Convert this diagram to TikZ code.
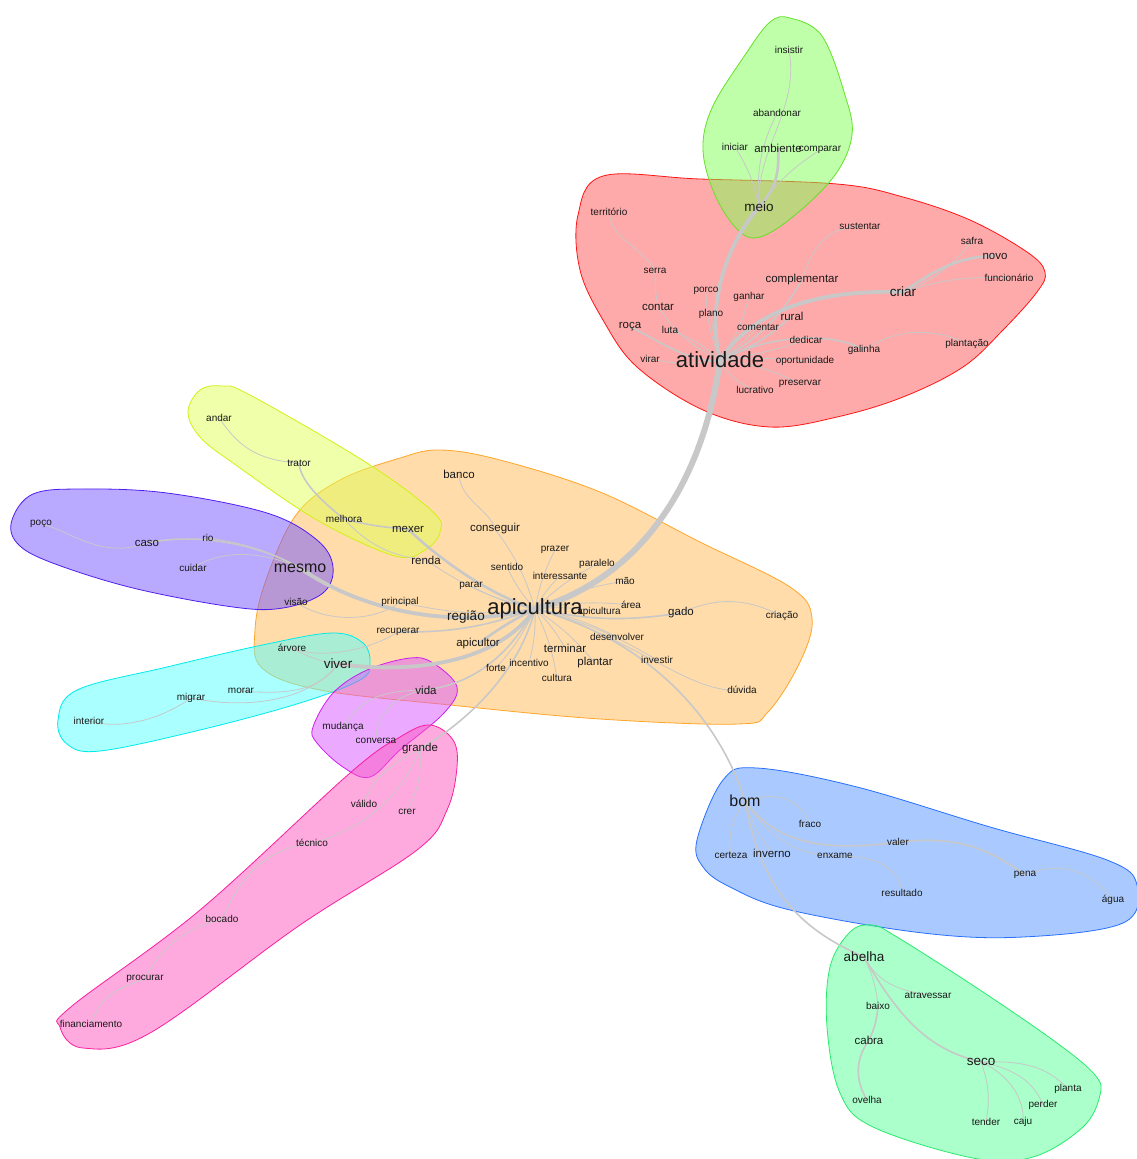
\documentclass[tikz,border=0pt]{standalone}
\usepackage{fontspec}
\setmainfont{Liberation Sans}
\usepackage{tikz}
\usetikzlibrary{positioning}

\definecolor{wordcol}{RGB}{25,25,25}
\definecolor{linkcol}{RGB}{200,200,200}
\definecolor{redfill}{RGB}{255,85,85}
\definecolor{redline}{RGB}{255,20,20}
\definecolor{greenfill}{RGB}{128,255,85}
\definecolor{greenline}{RGB}{100,225,40}
\definecolor{orangefill}{RGB}{255,185,85}
\definecolor{orangeline}{RGB}{255,165,40}
\definecolor{yellowfill}{RGB}{225,255,85}
\definecolor{yellowline}{RGB}{210,240,20}
\definecolor{purplefill}{RGB}{115,85,255}
\definecolor{purpleline}{RGB}{80,30,240}
\definecolor{cyanfill}{RGB}{85,255,255}
\definecolor{cyanline}{RGB}{0,235,235}
\definecolor{magentafill}{RGB}{215,85,255}
\definecolor{magentaline}{RGB}{205,30,240}
\definecolor{pinkfill}{RGB}{255,85,190}
\definecolor{pinkline}{RGB}{250,30,160}
\definecolor{bluefill}{RGB}{85,150,255}
\definecolor{blueline}{RGB}{40,110,255}
\definecolor{mintfill}{RGB}{85,255,150}
\definecolor{mintline}{RGB}{40,235,110}

\pgfdeclarelayer{blobs}
\pgfdeclarelayer{links}
\pgfsetlayers{blobs,links,main}

\begin{document}
\begin{tikzpicture}[
        x=1pt, y=-1pt,
        word/.style={inner sep=0pt, text=wordcol, font=\fontsize{10}{10}\selectfont},
        wordm/.style={word, font=\fontsize{11.5}{11.5}\selectfont},
        wordb/.style={word, font=\fontsize{13.5}{13.5}\selectfont},
        wordl/.style={word, font=\fontsize{16}{16}\selectfont},
        wordx/.style={word, font=\fontsize{22}{22}\selectfont},
        link1/.style={draw=linkcol, line width=0.8pt},
        link2/.style={draw=linkcol, line width=1.6pt},
        link3/.style={draw=linkcol, line width=2.6pt},
        link4/.style={draw=linkcol, line width=3.8pt},
        link5/.style={draw=linkcol, line width=6pt},
        blob/.style={fill=#1fill, fill opacity=0.5, draw=#1line, line width=0.8pt}
    ]
    \useasboundingbox (0,0) rectangle (1137,1159);

    % clusters
    \begin{pgfonlayer}{blobs}
    \path[blob=red] plot[smooth cycle, tension=0.6] coordinates {(603,176) (700,179) (837,184) (903,197) (970,220) (1027,252) (1045,272) (1037,292) (1003,330) (963,367) (903,397) (837,417) (770,427) (703,410) (637,367) (603,320) (580,270) (578,215)};
    \path[blob=green] plot[smooth cycle, tension=0.6] coordinates {(790,18) (822,36) (845,95) (852,135) (835,175) (795,215) (760,237) (738,230) (715,195) (703,150) (712,108) (745,55) (770,22)};
    \path[blob=orange] plot[smooth cycle, tension=0.6] coordinates {(440,450) (500,460) (600,492) (700,542) (790,587) (812,618) (800,662) (768,712) (738,724) (600,719) (450,705) (320,690) (262,668) (255,630) (266,580) (296,515) (340,480) (400,458)};
    \path[blob=yellow] plot[smooth cycle, tension=0.6] coordinates {(200,390) (222,386) (250,395) (367,463) (433,512) (440,532) (425,550) (395,556) (317,520) (233,463) (200,437) (188,412)};
    \path[blob=purple] plot[smooth cycle, tension=0.6] coordinates {(12,520) (33,494) (83,489) (167,493) (267,513) (317,540) (333,567) (323,593) (283,608) (233,607) (133,588) (50,562) (17,543)};
    \path[blob=cyan] plot[smooth cycle, tension=0.6] coordinates {(58,720) (77,690) (167,667) (267,644) (333,633) (363,643) (370,663) (360,680) (300,703) (200,730) (100,751) (67,744)};
    \path[blob=magenta] plot[smooth cycle, tension=0.6] coordinates {(410,658) (433,663) (457,687) (444,713) (400,750) (370,777) (343,767) (317,743) (313,727) (333,693) (367,670)};
    \path[blob=pink] plot[smooth cycle, tension=0.6] coordinates {(430,725) (453,740) (457,767) (447,810) (417,850) (300,925) (150,1033) (83,1048) (60,1027) (72,1006) (200,910) (350,773) (400,737)};
    \path[blob=blue] plot[smooth cycle, tension=0.6] coordinates {(757,768) (857,787) (990,827) (1107,860) (1137,885) (1123,923) (1023,937) (923,933) (790,910) (730,887) (703,867) (697,840) (723,780)};
    \path[blob=mint] plot[smooth cycle, tension=0.6] coordinates {(850,932) (872,925) (897,937) (980,990) (1057,1043) (1095,1075) (1100,1095) (1083,1127) (1033,1157) (973,1158) (873,1127) (840,1093) (827,1027) (830,967)};
    \end{pgfonlayer}

    % words
    \node (insistir) [word] at (789,50) {insistir};
    \node (abandonar) [word] at (777,113) {abandonar};
    \node (iniciar) [word] at (735,147) {iniciar};
    \node (ambiente) [wordm] at (778,148) {ambiente};
    \node (comparar) [word] at (820,150) {comparar};
    \node (meio) [wordb] at (759,207) {meio};

    \node (territorio) [word] at (609,212) {território};
    \node (sustentar) [word] at (860,226) {sustentar};
    \node (safra) [word] at (972,241) {safra};
    \node (novo) [wordm] at (995,256) {novo};
    \node (funcionario) [word] at (1009,278) {funcionário};
    \node (serra) [word] at (655,271) {serra};
    \node (porco) [word] at (706,291) {porco};
    \node (complementar) [wordm] at (802,280) {complementar};
    \node (criar) [wordb] at (903,292) {criar};
    \node (ganhar) [word] at (749,297) {ganhar};
    \node (contar) [wordm] at (658,307) {contar};
    \node (plano) [word] at (711,314) {plano};
    \node (rural) [wordm] at (792,316) {rural};
    \node (roca) [wordm] at (630,327) {roça};
    \node (luta) [word] at (670,330) {luta};
    \node (comentar) [word] at (758,327) {comentar};
    \node (dedicar) [word] at (806,340) {dedicar};
    \node (galinha) [word] at (864,350) {galinha};
    \node (plantacao) [word] at (967,344) {plantação};
    \node (virar) [word] at (650,359) {virar};
    \node (atividade) [wordx] at (720,360) {atividade};
    \node (oportunidade) [word] at (805,361) {oportunidade};
    \node (preservar) [word] at (800,384) {preservar};
    \node (lucrativo) [word] at (755,390) {lucrativo};

    \node (andar) [word] at (219,418) {andar};
    \node (trator) [word] at (299,463) {trator};
    \node (melhora) [word] at (344,519) {melhora};
    \node (mexer) [wordm] at (408,529) {mexer};

    \node (banco) [wordm] at (459,474) {banco};
    \node (conseguir) [wordm] at (495,529) {conseguir};
    \node (prazer) [word] at (555,550) {prazer};
    \node (renda) [wordm] at (426,560) {renda};
    \node (paralelo) [word] at (597,564) {paralelo};
    \node (sentido) [word] at (507,567) {sentido};
    \node (interessante) [word] at (560,576) {interessante};
    \node (mao) [word] at (625,581) {mão};
    \node (parar) [word] at (471,586) {parar};
    \node (principal) [word] at (400,602) {principal};
    \node (area) [word] at (631,605) {área};
    \node (apicultura) [wordx] at (535,609) {apicultura};
    \node (regiao) [wordb] at (466,617) {região};
    \node (apicultura2) [word] at (599,612) {apicultura};
    \node (gado) [wordm] at (681,613) {gado};
    \node (criacao) [word] at (782,616) {criação};
    \node (recuperar) [word] at (398,632) {recuperar};
    \node (desenvolver) [word] at (617,637) {desenvolver};
    \node (apicultor) [wordm] at (478,644) {apicultor};
    \node (terminar) [wordm] at (565,648) {terminar};
    \node (plantar) [wordm] at (595,663) {plantar};
    \node (investir) [word] at (657,660) {investir};
    \node (forte) [word] at (496,668) {forte};
    \node (incentivo) [word] at (529,663) {incentivo};
    \node (cultura) [word] at (557,678) {cultura};
    \node (duvida) [word] at (742,690) {dúvida};

    \node (poco) [word] at (41,524) {poço};
    \node (caso) [wordm] at (147,543) {caso};
    \node (rio) [word] at (208,538) {rio};
    \node (cuidar) [word] at (193,568) {cuidar};
    \node (mesmo) [wordl] at (300,568) {mesmo};
    \node (visao) [word] at (296,602) {visão};

    \node (arvore) [word] at (292,648) {árvore};
    \node (viver) [wordb] at (338,664) {viver};
    \node (morar) [word] at (241,691) {morar};
    \node (migrar) [word] at (191,698) {migrar};
    \node (interior) [word] at (89,721) {interior};

    \node (vida) [wordm] at (426,690) {vida};
    \node (mudanca) [word] at (343,727) {mudança};
    \node (conversa) [word] at (376,741) {conversa};

    \node (grande) [wordm] at (420,749) {grande};
    \node (valido) [word] at (364,804) {válido};
    \node (crer) [word] at (407,812) {crer};
    \node (tecnico) [word] at (312,843) {técnico};
    \node (bocado) [word] at (222,919) {bocado};
    \node (procurar) [word] at (145,979) {procurar};
    \node (financiamento) [word] at (91,1024) {financiamento};

    \node (bom) [wordl] at (745,801) {bom};
    \node (fraco) [word] at (810,824) {fraco};
    \node (valer) [word] at (898,842) {valer};
    \node (certeza) [word] at (731,855) {certeza};
    \node (inverno) [wordm] at (772,853) {inverno};
    \node (enxame) [word] at (835,856) {enxame};
    \node (pena) [word] at (1025,875) {pena};
    \node (resultado) [word] at (902,893) {resultado};
    \node (agua) [word] at (1113,900) {água};

    \node (abelha) [wordb] at (864,957) {abelha};
    \node (atravessar) [word] at (928,995) {atravessar};
    \node (baixo) [word] at (878,1006) {baixo};
    \node (cabra) [wordm] at (869,1040) {cabra};
    \node (seco) [wordb] at (981,1062) {seco};
    \node (planta) [word] at (1068,1089) {planta};
    \node (perder) [word] at (1043,1105) {perder};
    \node (ovelha) [word] at (867,1100) {ovelha};
    \node (tender) [word] at (986,1122) {tender};
    \node (caju) [word] at (1023,1122) {caju};

    % links
    \begin{pgfonlayer}{links}
    \draw[link5] (apicultura.center) .. controls (650,575) and (705,470) .. (atividade.center);
    \draw[link4] (meio.center) .. controls (730,240) and (705,300) .. (atividade.center);
    \draw[link3] (ambiente.center) .. controls (780,180) and (772,192) .. (meio.center);
    \draw[link1] (meio.center) .. controls (755,150) and (800,110) .. (insistir.center);
    \draw[link1] (meio.center) to[bend left=15] (abandonar.center);
    \draw[link1] (meio.center) to[bend right=10] (iniciar.center);
    \draw[link1] (meio.center) to[bend left=10] (comparar.center);

    \draw[link4] (atividade.center) .. controls (760,300) and (840,290) .. (criar.center);
    \draw[link3] (criar.center) .. controls (935,270) and (960,256) .. (novo.center);
    \draw[link1] (criar.center) to[bend right=15] (safra.center);
    \draw[link1] (criar.center) to[bend left=10] (funcionario.center);
    \draw[link2] (atividade.center) to[bend right=15] (complementar.center);
    \draw[link1] (complementar.center) .. controls (815,240) and (830,228) .. (sustentar.center);
    \draw[link2] (atividade.center) to[bend right=10] (rural.center);
    \draw[link1] (atividade.center) to[bend right=10] (ganhar.center);
    \draw[link1] (atividade.center) to[bend left=10] (porco.center);
    \draw[link1] (atividade.center) to[bend left=5] (plano.center);
    \draw[link1] (atividade.center) to[bend right=5] (comentar.center);
    \draw[link1] (atividade.center) to[bend right=5] (dedicar.center);
    \draw[link2] (atividade.center) .. controls (780,330) and (840,335) .. (galinha.center);
    \draw[link1] (galinha.center) .. controls (900,325) and (940,330) .. (plantacao.center);
    \draw[link1] (atividade.center) to[bend left=5] (oportunidade.center);
    \draw[link1] (atividade.center) to[bend left=10] (preservar.center);
    \draw[link1] (atividade.center) to[bend right=20] (lucrativo.center);
    \draw[link1] (atividade.center) to[bend left=10] (virar.center);
    \draw[link1] (atividade.center) to[bend right=10] (luta.center);
    \draw[link1] (atividade.center) to[bend left=15] (contar.center);
    \draw[link1] (contar.center) to[bend left=5] (serra.center);
    \draw[link1] (serra.center) .. controls (640,245) and (612,240) .. (territorio.center);
    \draw[link2] (atividade.center) .. controls (690,365) and (650,335) .. (roca.center);

    \draw[link3] (apicultura.center) .. controls (490,595) and (440,560) .. (mexer.center);
    \draw[link2] (mexer.center) to[bend left=5] (melhora.center);
    \draw[link2] (melhora.center) .. controls (320,500) and (300,480) .. (trator.center);
    \draw[link1] (trator.center) .. controls (250,460) and (235,440) .. (andar.center);
    \draw[link1] (apicultura.center) to[bend left=10] (renda.center);
    \draw[link1] (melhora.center) to[bend right=20] (renda.center);
    \draw[link4] (apicultura.center) .. controls (450,630) and (360,610) .. (mesmo.center);
    \draw[link2] (mesmo.center) .. controls (260,545) and (200,532) .. (caso.center);
    \draw[link1] (caso.center) .. controls (100,560) and (70,530) .. (poco.center);
    \draw[link1] (mesmo.center) to[bend right=10] (rio.center);
    \draw[link1] (mesmo.center) .. controls (260,550) and (220,550) .. (cuidar.center);
    \draw[link1] (apicultura.center) to[bend left=10] (principal.center);
    \draw[link1] (principal.center) .. controls (370,625) and (320,620) .. (visao.center);
    \draw[link4] (apicultura.center) .. controls (500,660) and (420,675) .. (viver.center);
    \draw[link1] (viver.center) to[bend left=10] (arvore.center);
    \draw[link1] (viver.center) .. controls (320,690) and (290,695) .. (morar.center);
    \draw[link1] (viver.center) .. controls (310,700) and (250,710) .. (migrar.center);
    \draw[link1] (migrar.center) .. controls (160,720) and (120,730) .. (interior.center);
    \draw[link2] (apicultura.center) to[bend left=10] (recuperar.center);
    \draw[link1] (recuperar.center) .. controls (370,650) and (320,660) .. (arvore.center);
    \draw[link2] (apicultura.center) .. controls (500,670) and (460,685) .. (vida.center);
    \draw[link1] (vida.center) .. controls (380,690) and (360,700) .. (mudanca.center);
    \draw[link1] (vida.center) .. controls (390,695) and (375,720) .. (conversa.center);
    \draw[link2] (apicultura.center) .. controls (520,670) and (470,720) .. (grande.center);
    \draw[link1] (grande.center) .. controls (380,770) and (370,785) .. (valido.center);
    \draw[link1] (grande.center) to[bend left=15] (crer.center);
    \draw[link1] (grande.center) .. controls (400,800) and (360,830) .. (tecnico.center);
    \draw[link1] (tecnico.center) .. controls (260,850) and (240,880) .. (bocado.center);
    \draw[link1] (bocado.center) .. controls (180,930) and (160,950) .. (procurar.center);
    \draw[link1] (procurar.center) .. controls (110,990) and (100,1000) .. (financiamento.center);
    \draw[link2] (apicultura.center) .. controls (650,640) and (720,720) .. (bom.center);
    \draw[link2] (apicultura.center) to[bend right=10] (gado.center);
    \draw[link1] (gado.center) .. controls (720,595) and (750,600) .. (criacao.center);
    \draw[link1] (apicultura.center) .. controls (640,640) and (690,695) .. (duvida.center);
    \draw[link1] (banco.center) .. controls (460,500) and (490,510) .. (conseguir.center);
    \draw[link1] (conseguir.center) to[bend left=10] (apicultura.center);
    \foreach \w in {prazer,paralelo,sentido,interessante,mao,parar,area,apicultura2,desenvolver,terminar,plantar,investir,forte,incentivo,cultura}
        \draw[link1] (apicultura.center) to[bend left=8] (\w.center);
    \draw[link2] (apicultura.center) to[bend left=5] (regiao.center);
    \draw[link3] (apicultura.center) to[bend right=5] (apicultor.center);

    \draw[link1] (bom.center) .. controls (780,790) and (800,800) .. (fraco.center);
    \draw[link2] (bom.center) .. controls (780,850) and (840,850) .. (valer.center);
    \draw[link2] (valer.center) .. controls (960,835) and (990,850) .. (pena.center);
    \draw[link1] (pena.center) .. controls (1060,860) and (1090,870) .. (agua.center);
    \draw[link1] (bom.center) .. controls (730,820) and (728,840) .. (certeza.center);
    \draw[link1] (bom.center) to[bend right=10] (inverno.center);
    \draw[link1] (bom.center) .. controls (770,840) and (800,855) .. (enxame.center);
    \draw[link1] (enxame.center) .. controls (880,855) and (900,870) .. (resultado.center);
    \draw[link2] (bom.center) .. controls (760,880) and (790,925) .. (abelha.center);

    \draw[link1] (abelha.center) .. controls (880,985) and (900,990) .. (atravessar.center);
    \draw[link1] (abelha.center) to[bend left=10] (baixo.center);
    \draw[link2] (baixo.center) to[bend left=10] (cabra.center);
    \draw[link2] (cabra.center) .. controls (855,1060) and (855,1080) .. (ovelha.center);
    \draw[link2] (abelha.center) .. controls (900,1020) and (930,1050) .. (seco.center);
    \draw[link1] (seco.center) .. controls (1030,1060) and (1050,1070) .. (planta.center);
    \draw[link1] (seco.center) .. controls (1020,1070) and (1035,1085) .. (perder.center);
    \draw[link1] (seco.center) to[bend left=15] (tender.center);
    \draw[link1] (seco.center) .. controls (1010,1075) and (1025,1100) .. (caju.center);
    \end{pgfonlayer}

    \end{tikzpicture}
\end{document}
